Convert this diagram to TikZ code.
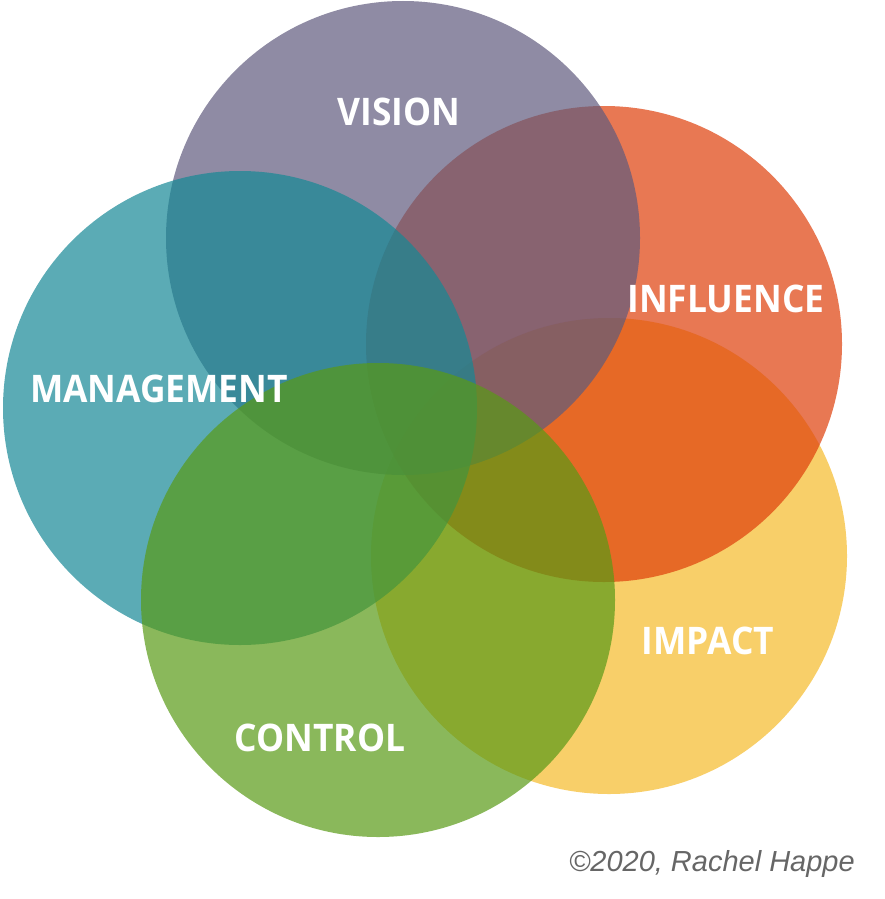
\documentclass[tikz,border=0pt]{standalone}
\usepackage{fontspec}
\setmainfont{Open Sans}
\newfontfamily\copyfont{Liberation Sans}
\definecolor{visionc}{RGB}{95,90,125}
\definecolor{influencec}{RGB}{222,62,10}
\definecolor{managementc}{RGB}{21,136,149}
\definecolor{controlc}{RGB}{89,154,22}
\definecolor{impactc}{RGB}{245,186,42}
\tikzset{
  disc/.style={fill=#1, fill opacity=0.7, draw=none},
  lbl/.style={text=white, font=\bfseries\fontsize{38}{38}\selectfont, inner sep=0pt, xscale=0.93},
}
\begin{document}
\begin{tikzpicture}[x=1pt,y=-1pt]
\useasboundingbox (0,0) rectangle (885,899);

\fill [disc=impactc] (609,556) circle (238) ;      % impact
\fill [disc=influencec] (604,344) circle (238) ;   % influence
\fill [disc=visionc] (403,238) circle (237) ;      % vision
\fill [disc=managementc] (240,408) circle (237) ;  % management
\fill [disc=controlc] (378,600) circle (237) ;     % control

\node [lbl] (vision) at (399,112) {VISION} ;
\node [lbl] (influence) at (726,299) {INFLUENCE} ;
\node [lbl] (management) at (159,389) {MANAGEMENT} ;
\node [lbl] (impact) at (708,641) {IMPACT} ;
\node [lbl] (control) at (320,738) {CONTROL} ;
\node [text=black!60, font=\copyfont\itshape\fontsize{29}{29}\selectfont, anchor=east, inner sep=0pt] (copyright) at (855,864) {©2020, Rachel Happe} ;
\end{tikzpicture}
\end{document}
